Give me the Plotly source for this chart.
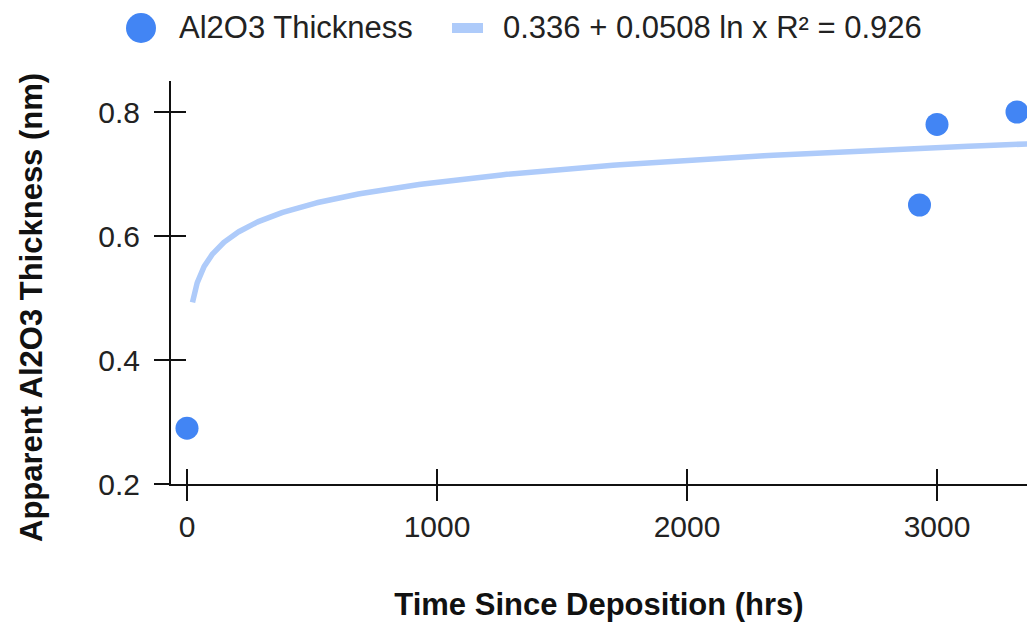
import numpy as np
import plotly.graph_objects as go

# Measured oxide thickness vs. time since deposition
hours = [0, 2930, 3000, 3320]
thickness = [0.29, 0.65, 0.78, 0.80]

# Logarithmic trendline: y = a + b ln x
trend_a = 0.336
trend_b = 0.0508
trend_r2 = 0.926
trend_x_start = 22
trend_x_end = 3400

x_ticks = [0, 1000, 2000, 3000]
y_ticks = [0.2, 0.4, 0.6, 0.8]

W, H = 1027, 622
ML, MR, MT, MB = 171, 0, 81, 138
PW, PH = W - ML - MR, H - MT - MB


def px_x(p):
    return (p - ML) / PW


def px_y(p):
    return (H - MB - p) / PH


FONT = "Liberation Sans, Arial, Helvetica, sans-serif"
DOT = "#4285F4"
TREND = "#AECBFA"
AXIS = "#111111"

tx = np.linspace(np.log(trend_x_start), np.log(trend_x_end), 300)
tx = np.exp(tx)
ty = trend_a + trend_b * np.log(tx)

fig = go.Figure()
fig.add_trace(go.Scatter(
    x=tx, y=ty, mode="lines",
    line=dict(color=TREND, width=5.5),
    hoverinfo="skip", showlegend=False,
))
fig.add_trace(go.Scatter(
    x=hours, y=thickness, mode="markers",
    marker=dict(color=DOT, size=23),
    name="Al2O3 Thickness", showlegend=False, cliponaxis=False,
))
# companion trace for the inner half of the crossing ticks
fig.add_trace(go.Scatter(
    x=hours, y=thickness, xaxis="x2", yaxis="y2", mode="markers",
    marker=dict(opacity=0), hoverinfo="skip", showlegend=False,
))

axis_common = dict(
    showgrid=False, zeroline=False, showline=True, linecolor=AXIS, linewidth=2,
    ticks="outside", ticklen=15, tickwidth=2, tickcolor=AXIS,
    tickfont=dict(family=FONT, size=30, color="#222222"),
)

fig.update_layout(
    width=W, height=H,
    margin=dict(l=ML, r=MR, t=MT, b=MB, pad=0),
    paper_bgcolor="white", plot_bgcolor="white",
    showlegend=False,
    xaxis=dict(
        range=[-64, 3360], tickvals=x_ticks, **axis_common,
        title=dict(text="<b>Time Since Deposition (hrs)</b>",
                   font=dict(family=FONT, size=31, color="#111111"), standoff=52),
    ),
    yaxis=dict(
        range=[0.2, 0.85], tickvals=y_ticks, tickformat=".1f",
        ticklabelstandoff=8, **axis_common,
    ),
    xaxis2=dict(
        overlaying="x", matches="x", anchor="y2", tickvals=x_ticks,
        ticks="inside", ticklen=15, tickwidth=2, tickcolor=AXIS,
        showticklabels=False, showline=False, showgrid=False, zeroline=False,
    ),
    yaxis2=dict(
        overlaying="y", matches="y", anchor="x2", tickvals=y_ticks,
        ticks="inside", ticklen=15, tickwidth=2, tickcolor=AXIS,
        showticklabels=False, showline=False, showgrid=False, zeroline=False,
    ),
)

# y-axis title
fig.add_annotation(
    text="<b>Apparent Al2O3 Thickness (nm)</b>", textangle=-90,
    xref="paper", yref="paper", x=px_x(31), y=px_y(308),
    xanchor="center", yanchor="middle", showarrow=False,
    font=dict(family=FONT, size=31, color="#111111"),
)

# legend row
fig.add_shape(type="circle", xref="paper", yref="paper",
              x0=px_x(126), x1=px_x(156), y0=px_y(43), y1=px_y(13),
              fillcolor=DOT, line=dict(width=0))
fig.add_annotation(text="Al2O3 Thickness", xref="paper", yref="paper",
                   x=px_x(177), y=px_y(27), xanchor="left", yanchor="middle",
                   showarrow=False, font=dict(family=FONT, size=31, color="#222222"))
fig.add_shape(type="rect", xref="paper", yref="paper",
              x0=px_x(452), x1=px_x(483), y0=px_y(33), y1=px_y(23),
              fillcolor=TREND, line=dict(width=0))
fig.add_annotation(text=f"{trend_a} + {trend_b} ln x R² = {trend_r2}",
                   xref="paper", yref="paper",
                   x=px_x(501), y=px_y(27), xanchor="left", yanchor="middle",
                   showarrow=False, font=dict(family=FONT, size=31, color="#222222"))

fig.write_html("out.html")
